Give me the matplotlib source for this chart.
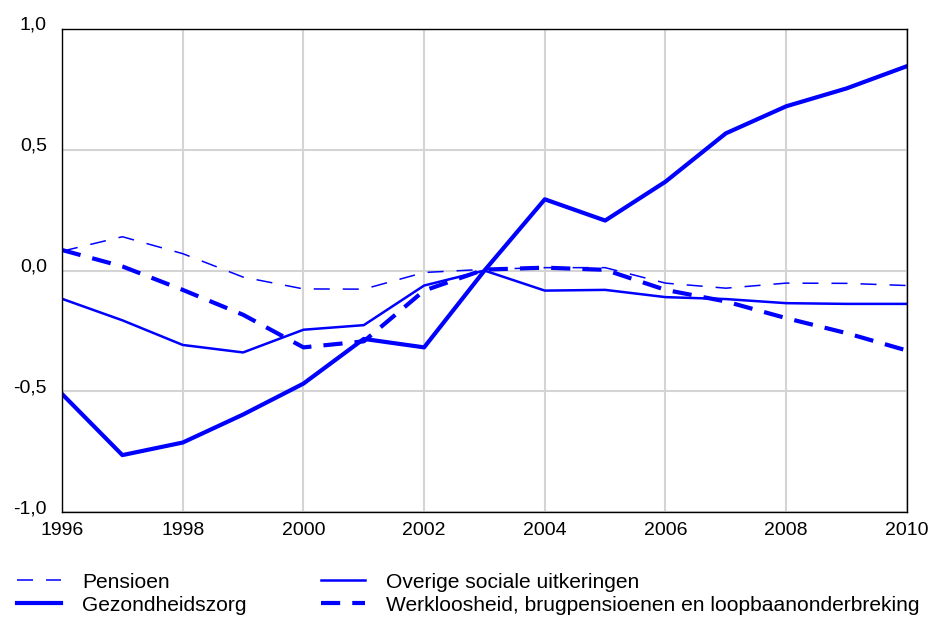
import matplotlib
matplotlib.use("Agg")
import matplotlib.pyplot as plt
from matplotlib.transforms import ScaledTranslation

years = list(range(1996, 2011))

# Bijdrage per categorie (procentpunt)
pensioen = [0.08, 0.14, 0.07, -0.027, -0.076, -0.077, -0.008, 0.005, 0.012, 0.012,
            -0.052, -0.073, -0.052, -0.053, -0.062]
gezondheidszorg = [-0.511, -0.764, -0.712, -0.596, -0.468, -0.283, -0.318, 0.0, 0.295, 0.207,
                   0.368, 0.568, 0.68, 0.754, 0.846]
overige = [-0.117, -0.206, -0.308, -0.339, -0.245, -0.226, -0.062, 0.0, -0.083, -0.080,
           -0.110, -0.118, -0.135, -0.138, -0.138]
werkloosheid = [0.085, 0.017, -0.08, -0.183, -0.318, -0.293, -0.083, 0.004, 0.012, 0.003,
                -0.08, -0.128, -0.197, -0.259, -0.331]

x_ticks = list(range(1996, 2011, 2))
y_ticks = [-1.0, -0.5, 0.0, 0.5, 1.0]
y_labels = ["-1,0", "-0,5", "0,0", "0,5", "1,0"]

plt.rcParams["font.family"] = ["Liberation Sans", "DejaVu Sans"]
plt.rcParams["font.size"] = 14

fig = plt.figure(figsize=(9.33, 6.17), dpi=100)
ax = fig.add_axes([0.0665, 0.170, 0.9055, 0.783])

blue = "#0000ff"
l_pens, = ax.plot(years, pensioen, color=blue, lw=1.1, dashes=(10.5, 8.5), label="Pensioen")
l_gez, = ax.plot(years, gezondheidszorg, color=blue, lw=3.0, label="Gezondheidszorg")
l_ov, = ax.plot(years, overige, color=blue, lw=1.8, label="Overige sociale uitkeringen")
l_wk, = ax.plot(years, werkloosheid, color=blue, lw=3.0, dashes=(4.6, 2.9),
                label="Werkloosheid, brugpensioenen en loopbaanonderbreking")

ax.set_xlim(1996, 2010)
ax.set_ylim(-1.0, 1.0)
ax.set_xticks(x_ticks)
ax.set_yticks(y_ticks)
ax.set_yticklabels(y_labels)
ax.tick_params(length=0)
ax.tick_params(axis="y", pad=11)
ax.tick_params(axis="x", pad=7)
ax.grid(True, color="#d4d4d4", lw=1.5)
ax.set_axisbelow(True)
for s in ax.spines.values():
    s.set_color("black")
    s.set_linewidth(1.0)

# labels staan iets boven de rasterlijn
for lab in ax.get_yticklabels():
    lab.set_transform(lab.get_transform() + ScaledTranslation(0, 4 / 72, fig.dpi_scale_trans))

fig.legend(handles=[l_pens, l_gez, l_ov, l_wk], loc="upper left",
           bbox_to_anchor=(17 / 933, 0.072), ncol=2, frameon=False, fontsize=15.1,
           handlelength=2.1, handletextpad=1.0, columnspacing=3.55,
           labelspacing=0.2, borderaxespad=0, borderpad=0)

fig.savefig("out.png", dpi=100)
